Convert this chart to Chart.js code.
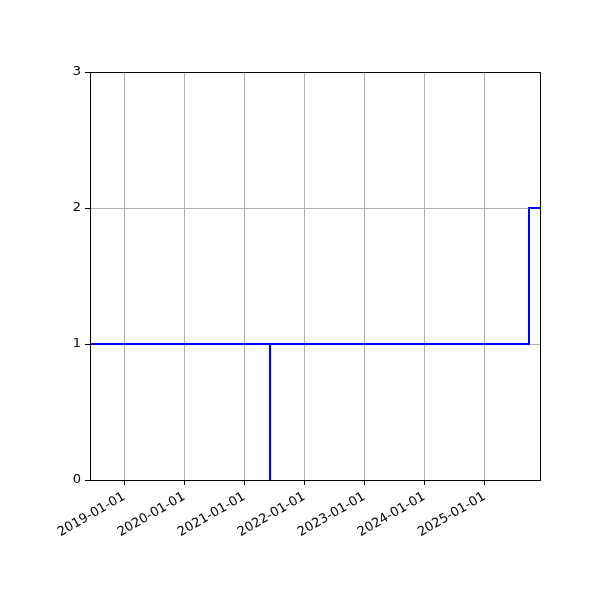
<!DOCTYPE html>
<html>
<head>
<meta charset="utf-8">
<script src="https://cdn.jsdelivr.net/npm/chart.js@4"></script>
<style>
  html, body { margin: 0; padding: 0; background: #fff; }
  #wrap { width: 600px; height: 600px; }
</style>
</head>
<body>
<div id="wrap"><canvas id="stepChart" width="600" height="600"></canvas></div>
<script>
// step series (value holds until the next date), dates as YYYY-MM-DD
const stepDates = ['2018-06-07', '2021-06-06', '2021-06-07', '2025-09-29', '2025-12-05'];
const stepValues = [1, 0, 1, 2, 2];
const xTickDates = ['2019-01-01', '2020-01-01', '2021-01-01', '2022-01-01', '2023-01-01', '2024-01-01', '2025-01-01'];
const yTicks = [0, 1, 2, 3];

function toMs(d) {
  const p = d.split('-').map(Number);
  return Date.UTC(p[0], p[1] - 1, p[2]);
}
function fmtDate(ms) {
  const d = new Date(ms);
  const mm = String(d.getUTCMonth() + 1).padStart(2, '0');
  const dd = String(d.getUTCDate()).padStart(2, '0');
  return d.getUTCFullYear() + '-' + mm + '-' + dd;
}

const points = stepDates.map((d, i) => ({ x: toMs(d), y: stepValues[i] }));

// box around the plot area, like matplotlib spines
const frame = {
  id: 'frame',
  afterDraw(chart) {
    const a = chart.chartArea;
    const ctx = chart.ctx;
    ctx.save();
    ctx.strokeStyle = '#000';
    ctx.lineWidth = 1;
    ctx.strokeRect(Math.round(a.left) + 0.5, Math.round(a.top) + 0.5,
      Math.round(a.right - a.left), Math.round(a.bottom - a.top));
    ctx.restore();
  }
};

Chart.defaults.font.family = 'DejaVu Sans';
Chart.defaults.font.size = 13;
Chart.defaults.color = '#000';

new Chart(document.getElementById('stepChart').getContext('2d'), {
  type: 'line',
  data: {
    datasets: [{
      data: points,
      stepped: 'before', // horizontal first, then vertical (steps-post)
      borderColor: '#0000ff',
      borderWidth: 2,
      pointRadius: 0,
      fill: false
    }]
  },
  options: {
    responsive: false,
    animation: false,
    layout: { padding: { top: 72, right: 60, left: 0, bottom: 0 } },
    plugins: { legend: { display: false }, tooltip: { enabled: false } },
    scales: {
      x: {
        type: 'linear',
        min: toMs(stepDates[0]),
        max: toMs(stepDates[stepDates.length - 1]),
        afterBuildTicks(scale) {
          scale.ticks = xTickDates.map(d => ({ value: toMs(d) }));
        },
        afterFit(scale) { scale.height = 120; },
        ticks: {
          autoSkip: false,
          minRotation: 30,
          maxRotation: 30,
          padding: 4,
          callback: v => fmtDate(v)
        },
        grid: { color: '#b0b0b0', lineWidth: 1, tickLength: 5, tickColor: '#000' },
        border: { color: '#000', width: 1 }
      },
      y: {
        min: 0,
        max: 3,
        afterBuildTicks(scale) {
          scale.ticks = yTicks.map(v => ({ value: v }));
        },
        afterFit(scale) { scale.width = 90; },
        ticks: { padding: 4 },
        grid: { color: '#b0b0b0', lineWidth: 1, tickLength: 5, tickColor: '#000' },
        border: { color: '#000', width: 1 }
      }
    }
  },
  plugins: [frame]
});
</script>
</body>
</html>
